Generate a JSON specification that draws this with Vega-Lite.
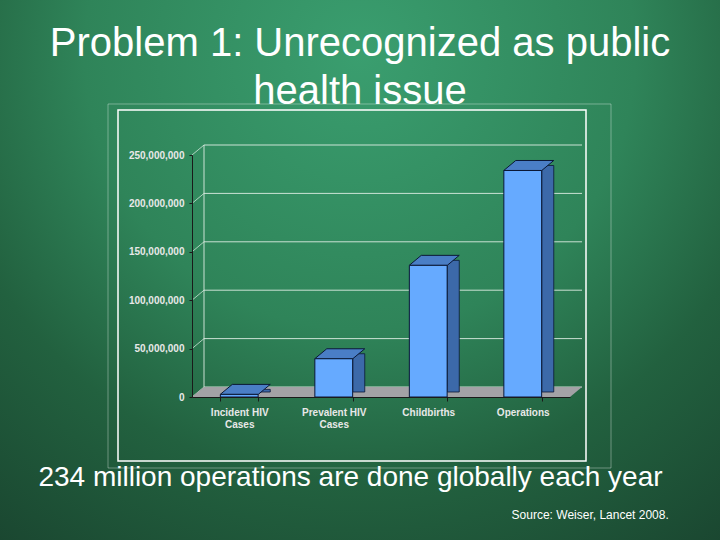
{
  "$schema": "https://vega.github.io/schema/vega-lite/v6.json",
  "width": 720,
  "height": 540,
  "padding": 0,
  "autosize": {"type": "none"},
  "background": "#27704c",
  "config": {
    "font": "Liberation Sans",
    "view": {
      "stroke": null,
      "fill": {
        "gradient": "radial",
        "x1": 0.5, "y1": 0.2, "r1": 0,
        "x2": 0.5, "y2": 0.2, "r2": 0.85,
        "stops": [
          {"offset": 0, "color": "#3a9e6f"},
          {"offset": 0.45, "color": "#2f8459"},
          {"offset": 0.7, "color": "#22613f"},
          {"offset": 1, "color": "#1a4630"}
        ]
      }
    }
  },
  "title": {
    "text": ["Problem 1: Unrecognized as public", "health issue"],
    "font": "Liberation Sans",
    "fontSize": 40,
    "fontWeight": "normal",
    "color": "#ffffff",
    "lineHeight": 48,
    "anchor": "middle",
    "frame": "group",
    "offset": -112
  },
  "datasets": {
    "bars": [
      {"category": "Incident HIV Cases", "value": 2700000},
      {"category": "Prevalent HIV Cases", "value": 39500000},
      {"category": "Childbirths", "value": 136000000},
      {"category": "Operations", "value": 234000000}
    ],
    "ticks": [
      {"v": 0}, {"v": 50000000}, {"v": 100000000}, {"v": 150000000}, {"v": 200000000}, {"v": 250000000}
    ],
    "one": [{"item": "decor"}]
  },
  "layer": [
    {
      "data": {"name": "bars"},
      "mark": {"type": "bar", "fill": "#66aaff", "stroke": "#0b1836", "strokeWidth": 1, "opacity": 0},
      "encoding": {
        "x": {
          "field": "category", "type": "nominal",
          "scale": {"type": "band", "domain": ["Incident HIV Cases", "Prevalent HIV Cases", "Childbirths", "Operations"], "range": [192, 570], "paddingInner": 0.6, "paddingOuter": 0.3},
          "axis": {
            "orient": "bottom", "offset": -143, "zindex": 1,
            "labelAngle": 0,
            "labelExpr": "datum.value == 'Incident HIV Cases' ? ['Incident HIV', 'Cases'] : datum.value == 'Prevalent HIV Cases' ? ['Prevalent HIV', 'Cases'] : datum.label",
            "labelFont": "Liberation Sans", "labelFontSize": 10, "labelFontWeight": "bold", "labelColor": "#e8e8e8",
            "labelPadding": 6, "labelBaseline": "top", "labelLineHeight": 12,
            "tickBand": "extent", "ticks": true, "tickSize": 4, "tickColor": "#1a1a1a",
            "domainColor": "#1a1a1a", "domainWidth": 1, "grid": false,
            "title": "234 million operations are done globally each year",
            "titleFont": "Liberation Sans", "titleFontSize": 28, "titleFontWeight": "normal", "titleColor": "#ffffff",
            "titleX": 350, "titleY": 88.7, "titleAlign": "center", "titleBaseline": "alphabetic"
          }
        },
        "y": {
          "field": "value", "type": "quantitative",
          "scale": {"type": "linear", "domain": [0, 250000000], "range": [397, 155], "nice": false, "zero": true},
          "axis": {
            "orient": "left", "offset": -192, "zindex": 1,
            "values": [0, 50000000, 100000000, 150000000, 200000000, 250000000],
            "format": ",d",
            "labelFont": "Liberation Sans", "labelFontSize": 10, "labelFontWeight": "bold", "labelColor": "#e8e8e8",
            "labelPadding": 5, "tickSize": 3, "tickColor": "#1a1a1a", "domainColor": "#1a1a1a", "grid": false,
            "title": "Source: Weiser, Lancet 2008.",
            "titleFont": "Liberation Sans", "titleFontSize": 12, "titleFontWeight": "normal", "titleColor": "#ffffff",
            "titleAngle": 0, "titleX": 476.3, "titleY": 518.3, "titleAlign": "right", "titleBaseline": "alphabetic"
          }
        }
      }
    },
    {
      "data": {"name": "one"},
      "mark": {"type": "point", "shape": "M-1,-0.7237H1V0.7237H-1Z", "size": 253009, "filled": false, "stroke": "#ffffff", "strokeOpacity": 0.35, "strokeWidth": 1, "opacity": 1, "xOffset": 25.75, "yOffset": -111},
      "encoding": {
        "x": {"datum": "Prevalent HIV Cases", "type": "nominal"},
        "y": {"datum": 0, "type": "quantitative"}
      }
    },
    {
      "data": {"name": "one"},
      "mark": {"type": "point", "shape": "M-1,-0.75H1V0.75H-1Z", "size": 219024, "filled": false, "stroke": "#ffffff", "strokeWidth": 1.5, "opacity": 1, "xOffset": 18.25, "yOffset": -111.5},
      "encoding": {
        "x": {"datum": "Prevalent HIV Cases", "type": "nominal"},
        "y": {"datum": 0, "type": "quantitative"}
      }
    },
    {
      "data": {"name": "ticks"},
      "mark": {"type": "rule", "stroke": "#e6f2ea", "strokeWidth": 1, "opacity": 0.85, "xOffset": -35.25, "x2Offset": 59.25, "yOffset": -10},
      "encoding": {
        "x": {"datum": "Incident HIV Cases", "type": "nominal"},
        "x2": {"datum": "Operations"},
        "y": {"field": "v", "type": "quantitative"}
      }
    },
    {
      "data": {"name": "ticks"},
      "mark": {"type": "rule", "stroke": "#e6f2ea", "strokeWidth": 1, "opacity": 0.7, "xOffset": -47.25, "x2Offset": -35.25, "yOffset": 0, "y2Offset": -10},
      "encoding": {
        "x": {"datum": "Incident HIV Cases", "type": "nominal"},
        "x2": {"datum": "Incident HIV Cases"},
        "y": {"field": "v", "type": "quantitative"},
        "y2": {"field": "v"}
      }
    },
    {
      "data": {"name": "one"},
      "mark": {"type": "rule", "stroke": "#e6f2ea", "strokeWidth": 1, "opacity": 0.85, "xOffset": -35.25, "yOffset": -10, "y2Offset": -10},
      "encoding": {
        "x": {"datum": "Incident HIV Cases", "type": "nominal"},
        "y": {"datum": 0, "type": "quantitative"},
        "y2": {"datum": 250000000}
      }
    },
    {
      "data": {"name": "one"},
      "mark": {"type": "point", "shape": "M-1,0L1,0L1.0635,-0.0529L-0.9365,-0.0529Z", "size": 142884, "filled": true, "fill": "#a3a2a6", "strokeWidth": 0, "opacity": 1, "xOffset": 47.25},
      "encoding": {
        "x": {"datum": "Prevalent HIV Cases", "type": "nominal"},
        "y": {"datum": 0, "type": "quantitative"}
      }
    },
    {
      "data": {"name": "bars"},
      "mark": {"type": "bar", "width": 12, "fill": "#3c69a9", "stroke": "#0b1836", "strokeWidth": 0.8, "xOffset": 25, "yOffset": -5, "y2Offset": -5},
      "encoding": {
        "x": {"field": "category", "type": "nominal"},
        "y": {"field": "value", "type": "quantitative"}
      }
    },
    {
      "data": {"name": "bars"},
      "mark": {"type": "point", "shape": "M-1,0L1,0L1.632,-0.526L-0.368,-0.526Z", "size": 1444, "filled": true, "fill": "#4a7ec6", "stroke": "#0b1836", "strokeWidth": 1, "opacity": 1},
      "encoding": {
        "x": {"field": "category", "type": "nominal"},
        "y": {"field": "value", "type": "quantitative"}
      }
    },
    {
      "data": {"name": "bars"},
      "mark": {"type": "bar", "fill": "#66aaff", "stroke": "#0b1836", "strokeWidth": 1},
      "encoding": {
        "x": {"field": "category", "type": "nominal"},
        "y": {"field": "value", "type": "quantitative"}
      }
    }
  ]
}
